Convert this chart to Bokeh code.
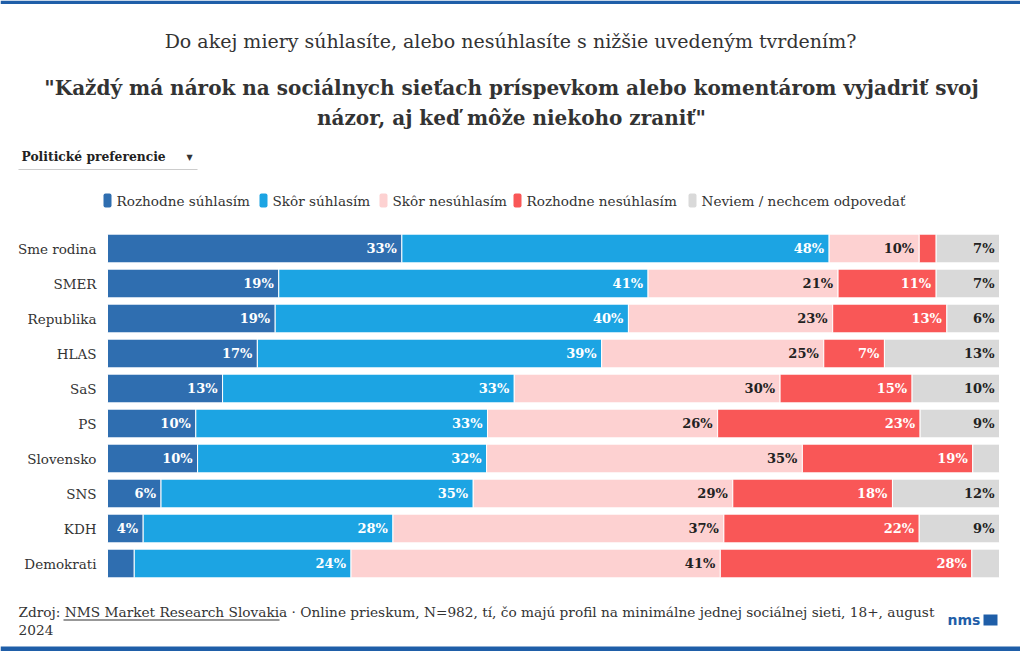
from bokeh.plotting import figure
from bokeh.models import BoxAnnotation, ColumnDataSource, Range1d
from bokeh.embed import file_html
from bokeh.resources import INLINE
from bokeh.core.properties import value

# ---------------- data ----------------
parties = ["Sme rodina", "SMER", "Republika", "HLAS", "SaS", "PS",
           "Slovensko", "SNS", "KDH", "Demokrati"]
rozhodne_suhlasim = [33.0, 19.2, 18.8, 16.8, 12.9, 9.9, 10.1, 6.0, 4.0, 3.0]
skor_suhlasim = [47.9, 41.4, 39.6, 38.6, 32.7, 32.7, 32.4, 35.0, 28.0, 24.3]
skor_nesuhlasim = [10.1, 21.3, 22.9, 24.9, 29.8, 25.8, 35.4, 29.1, 37.1, 41.4]
rozhodne_nesuhlasim = [1.9, 11.0, 12.8, 6.8, 14.8, 22.7, 19.1, 17.9, 21.9, 28.2]
neviem = [7.1, 7.1, 5.9, 12.9, 9.8, 8.9, 3.0, 12.0, 9.0, 3.1]

series_names = ["Rozhodne súhlasím", "Skôr súhlasím", "Skôr nesúhlasím",
                "Rozhodne nesúhlasím", "Neviem / nechcem odpovedať"]
series_values = [rozhodne_suhlasim, skor_suhlasim, skor_nesuhlasim,
                 rozhodne_nesuhlasim, neviem]

title_text = "Do akej miery súhlasíte, alebo nesúhlasíte s nižšie uvedeným tvrdením?"
subtitle_lines = ["\"Každý má nárok na sociálnych sieťach príspevkom alebo komentárom vyjadriť svoj",
                  "názor, aj keď môže niekoho zraniť\""]
dropdown_text = "Politické preferencie"
footer_line1 = ("Zdroj: NMS Market Research Slovakia \u00b7 Online prieskum, N=982, tí, čo majú profil "
                "na minimálne jednej sociálnej sieti, 18+, august")
footer_line2 = "2024"

# ---------------- styles / layout ----------------
colors = ["#2f6eb0", "#1ca4e3", "#fdd1d1", "#f95757", "#d9d9d9"]
label_colors = ["#ffffff", "#ffffff", "#222222", "#ffffff", "#222222"]
SERIF = "DejaVu Serif"
BRAND = "#1f5ea8"

W, H = 1020, 651
BAR_LEFT, BAR_RIGHT = 107, 999      # pixel span of 0..100 %
ROW0, PITCH = 248, 35               # pixel centre of first row, row pitch

ppu = (BAR_RIGHT - BAR_LEFT) / 100.0
x_range = Range1d(-BAR_LEFT / ppu, 100 + (W - BAR_RIGHT) / ppu)
y_range = Range1d((H - ROW0) / PITCH, -ROW0 / PITCH)   # flipped: row 0 on top

p = figure(width=W, height=H, x_range=x_range, y_range=y_range,
           x_axis_type=None, y_axis_type=None,
           output_backend="svg", toolbar_location=None,
           min_border=0, min_border_left=0, min_border_right=0,
           min_border_top=0, min_border_bottom=0)
p.outline_line_color = None
p.grid.visible = False
p.background_fill_color = "white"
p.border_fill_color = "white"

rows = list(range(len(parties)))

# category labels
p.text(x=[0] * len(parties), y=rows, text=parties, x_offset=-11,
       text_align="right", text_baseline="middle", text_color="#333333",
       text_font=value(SERIF), text_font_size="13.5px")

# ---------------- bars ----------------
cum = [0.0] * len(parties)
lx, ly, lt, lc = [], [], [], []
for vals, col, tcol in zip(series_values, colors, label_colors):
    left = cum[:]
    right = [a + b for a, b in zip(cum, vals)]
    src = ColumnDataSource(dict(y=rows, left=left, right=right))
    p.hbar(y="y", left="left", right="right", height=0.82, source=src,
           fill_color=col, line_color="white", line_width=1)
    for r_i, v, r in zip(rows, vals, right):
        if v >= 3.5:
            lx.append(r)
            ly.append(r_i)
            lt.append(f"{round(v)}%")
            lc.append(tcol)
    cum = right

lsrc = ColumnDataSource(dict(x=lx, y=ly, t=lt, c=lc))
p.text(x="x", y="y", text="t", text_color="c", source=lsrc,
       x_offset=-5, text_align="right", text_baseline="middle",
       text_font=value(SERIF), text_font_style="bold", text_font_size="13px")


# ---------------- page-level texts (pixel -> data helpers) ----------------
def dx(X):
    return x_range.start + X / ppu


def dy(Y):
    return (Y - ROW0) / PITCH


def lab(text, X, Y, size, bold=False, align="left", color="#333333", font=SERIF):
    p.text(x=[dx(X)], y=[dy(Y)], text=[text], text_font=value(font),
           text_font_size=size, text_font_style="bold" if bold else "normal",
           text_align=align, text_baseline="middle", text_color=color)


def box(X1, Y1, X2, Y2, color, radius=0):
    p.add_layout(BoxAnnotation(left=X1, right=X2, top=H - Y1, bottom=H - Y2,
                               left_units="screen", right_units="screen",
                               top_units="screen", bottom_units="screen",
                               fill_color=color, fill_alpha=1.0, line_color=None,
                               border_radius=radius))


# brand rules top / bottom
box(0, 0, W, 3.5, BRAND)
box(0, 646, W, 651, BRAND)

lab(title_text, 510, 40, "19px", align="center", color="#333333")
lab(subtitle_lines[0], 511, 87, "20px", bold=True, align="center", color="#333333")
lab(subtitle_lines[1], 511, 117, "20px", bold=True, align="center", color="#333333")

# dropdown
lab(dropdown_text, 21, 156, "12.3px", bold=True, color="#222222")
lab("\u25BC", 189, 157, "8px", align="center", color="#333333", font="DejaVu Sans")
box(18, 168.5, 197, 169.5, "#cccccc")

# legend
legend_x = [103, 259, 379, 513, 688]
for X, name, col in zip(legend_x, series_names, colors):
    box(X, 193, X + 8, 207, col, radius=2)
    lab(name, X + 13, 200, "13.6px", color="#333333")

# footer
lab(footer_line1, 18, 611, "13.7px", color="#333333")
lab(footer_line2, 18, 629, "13.7px", color="#333333")
box(63, 619, 279, 620, "#333333")

# logo
lab("nms", 947, 619, "14px", bold=True, color=BRAND, font="DejaVu Sans")
box(983, 614, 997, 625, BRAND)

open("out.html", "w").write(file_html(p, INLINE))
